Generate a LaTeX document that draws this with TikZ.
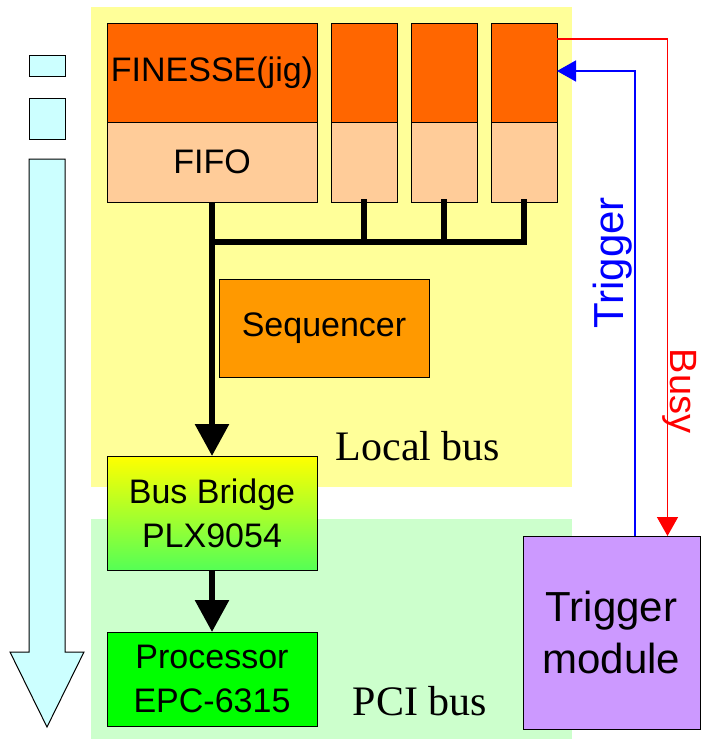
\documentclass[tikz,border=0pt]{standalone}
\usepackage{fontspec}
\setmainfont{Liberation Sans}
\newfontfamily\busfont{Liberation Serif}
\usepackage{xcolor}
\usetikzlibrary{arrows.meta,positioning}

\definecolor{bgyellow}{HTML}{FFFF99}
\definecolor{bggreen}{HTML}{CCFFCC}
\definecolor{modtop}{HTML}{FF6600}
\definecolor{modfifo}{HTML}{FFCC99}
\definecolor{seqorange}{HTML}{FF9900}
\definecolor{trigpurple}{HTML}{CC99FF}
\definecolor{flowcyan}{HTML}{CCFFFF}

\begin{document}
\begin{tikzpicture}[
    x=1pt, y=-1pt,
    every node/.style={font=\fontsize{34}{44}\selectfont},
    blk/.style={draw, line width=1pt, inner sep=0pt, outer sep=0pt, align=center},
    mtop/.style={blk, fill=modtop, minimum height=99pt},
    mfifo/.style={blk, fill=modfifo, minimum height=80pt},
    wide/.style={minimum width=210pt},
    bus/.style={line width=5.5pt, line cap=rect},
    busarr/.style={line width=6pt, -{Triangle[length=32pt,width=33pt]}},
    sig/.style={line width=1.5pt, -{Triangle[length=19pt,width=21pt]}},
    buslabel/.style={font=\busfont\fontsize{42}{50}\selectfont, anchor=base}
  ]
  \useasboundingbox (0,0) rectangle (702,739);

  % bus areas
  \fill[bgyellow] (91,7) rectangle (572,487);
  \fill[bggreen] (91,519) rectangle (572,739);

  % data flow
  \draw[line width=1pt, fill=flowcyan] (29,55) rectangle (65,76);
  \draw[line width=1pt, fill=flowcyan] (29,98) rectangle (65,139);
  \draw[line width=1pt, fill=flowcyan] (29,159) -- (65,159) -- (65,652) -- (84,652)
    -- (47,727) -- (10,652) -- (29,652) -- cycle;

  % modules
  \node[mtop, wide] (fin) at (212,72.5) {FINESSE(jig)};
  \node[mfifo, wide, below=0pt of fin] (fifo) {FIFO};
  \node[mtop, minimum width=66pt, right=14pt of fin] (m1) {};
  \node[mtop, minimum width=66pt, right=14pt of m1] (m2) {};
  \node[mtop, minimum width=66pt, right=14pt of m2] (m3) {};
  \foreach \i in {1,2,3}
    \node[mfifo, minimum width=66pt, below=0pt of m\i] (ff\i) {};

  \node[blk, wide, fill=seqorange, minimum height=98pt] (seq) at (324,328) {Sequencer};
  \node[blk, wide, minimum height=114pt, top color=yellow,
    bottom color={rgb,255:red,85;green,255;blue,85}] (bridge) at (212,513) {Bus Bridge\\PLX9054};
  \node[blk, wide, fill=green, minimum height=94pt, below=62pt of bridge] (proc) {Processor\\EPC-6315};
  \node[blk, fill=trigpurple, minimum width=177pt, minimum height=193pt,
    font=\fontsize{42}{52}\selectfont] (trig) at (611.5,632.5) {Trigger\\module};

  \node[buslabel] (local) at (418,460) {Local bus};
  \node[buslabel] (pci) at (420,715) {PCI bus};

  % local bus
  \coordinate (j0) at (212,242);
  \coordinate (j3) at (524,242);
  \draw[bus] (j0) -- (j3);
  \foreach \i in {1,2,3}
    \draw[bus] (ff\i.south) -- (ff\i.south |- j0);
  \draw[busarr] (fifo.south) -- (bridge.north);
  \draw[busarr] (bridge.south) -- (proc.north);

  % trigger / busy
  \draw[sig, red] ([yshift=-16pt]m3.north east) -| ([xshift=56pt]trig.north);
  \draw[sig, blue] ([xshift=23.5pt]trig.north) |- ([yshift=-48pt]m3.north east);
  \node[anchor=base, rotate=90, text=blue, font=\fontsize{42}{50}\selectfont] (trglbl) at (623,263) {Trigger};
  \node[anchor=base, rotate=-90, text=red, font=\fontsize{38}{46}\selectfont] (busylbl) at (670,391) {Busy};
\end{tikzpicture}
\end{document}
